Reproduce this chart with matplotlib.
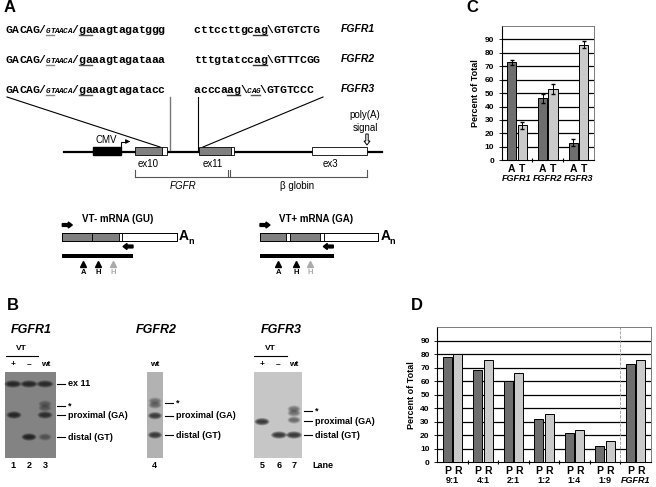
import numpy as np
import matplotlib
matplotlib.use('Agg')
import matplotlib.pyplot as plt
from matplotlib.patches import Rectangle, Ellipse

plt.rcParams['font.family'] = ['Liberation Sans', 'DejaVu Sans']

# --- datos panel C
genes_c = ['FGFR1', 'FGFR2', 'FGFR3']
pct_A = [73, 46, 13]
pct_T = [26, 53, 86]
err_A = [2.0, 3.0, 2.5]
err_T = [2.5, 3.5, 2.5]

# --- datos panel D
grupos_d = ['9:1', '4:1', '2:1', '1:2', '1:4', '1:9', 'FGFR1']
pct_P = [78, 68, 60, 32, 22, 12, 72.5]
pct_R = [80, 75.5, 66, 36, 24, 16, 75.5]

yticks = list(range(0, 100, 10))

# --- secuencias panel A (texto, tamano: n=normal s=pequeno)
seq_izq = [
    [('GACAG/', 'n'), ('GTAACA', 's'), ('/gaaagtagatggg', 'n')],
    [('GACAG/', 'n'), ('GTAACA', 's'), ('/gaaagtagataaa', 'n')],
    [('GACAG/', 'n'), ('GTAACA', 's'), ('/gaaagtagatacc', 'n')],
]
seq_der = [
    [('cttccttgcag\\GTGTCTG', 'n')],
    [('tttgtatccag\\GTTTCGG', 'n')],
    [('acccaag\\', 'n'), ('CAG', 's'), ('\\GTGTCCC', 'n')],
]
nombres = ['FGFR1', 'FGFR2', 'FGFR3']

# --- geles panel B: (x, y, ancho, oscuridad)
bandas_1 = [(13, 384, 17, 0.95), (29, 384, 17, 0.95), (45, 384, 17, 0.9),
            (45, 404, 13, 0.35), (45, 408, 13, 0.35),
            (14, 415, 15, 0.95), (45, 415, 15, 0.85),
            (29, 437, 15, 1.0), (45, 437, 13, 0.4)]
bandas_2 = [(155, 401, 13, 0.4), (155, 405, 13, 0.45),
            (155, 415.7, 14, 0.85), (155, 435, 14, 0.9)]
bandas_3 = [(262, 421.7, 15, 0.95), (279, 435, 16, 0.95), (294, 435, 16, 0.95),
            (294, 420, 13, 0.5), (294, 409, 13, 0.45), (294, 413, 13, 0.45)]

oscuro = '#6e6e6e'
claro = '#cacaca'

f = plt.figure(figsize=(6.56, 4.87), dpi=100)
ax = f.add_axes([0, 0, 1, 1])
ax.set_xlim(0, 656); ax.set_ylim(487, 0); ax.axis('off')

# letras de panel
for l, x, y in [('A', 10, 8), ('B', 13, 305), ('C', 472, 8), ('D', 417, 305)]:
    ax.text(x, y, l, fontsize=12, fontweight='bold', ha='center', va='center')

# secuencias, letra a letra
def seq(x0, y, partes, subr):
    x = x0
    pos = []
    for txt, t in partes:
        cw = 6.6 if t == 'n' else 4.4
        fs = 8.2 if t == 'n' else 5.5
        for c in txt:
            ax.text(x + cw/2, y, c, fontsize=fs, family='Liberation Mono',
                    fontweight='bold', ha='center', va='baseline',
                    style='normal' if t == 'n' else 'italic')
            pos.append((x, cw))
            x += cw
    for i0, i1, col in subr:
        ax.plot([pos[i0][0], pos[i1][0] + pos[i1][1]], [y + 2, y + 2], color=col, lw=1)

ys = [33, 63, 93]
for i in range(3):
    seq(6, ys[i], seq_izq[i], [(6, 7, '#888888'), (13, 14, '#555555')])
    sub = [(9, 10, '#333333')] if i < 2 else [(5, 6, '#333333'), (9, 10, '#555555')]
    seq(194, ys[i], seq_der[i], sub)
    ax.text(341, ys[i] - 3.5, nombres[i], fontsize=7.5, fontweight='bold', style='italic', va='center')

# lineas hacia el gen
ax.plot([7, 160], [97, 147], 'k-', lw=0.8)
ax.plot([170, 170], [97, 150], color='#777777', lw=1)
ax.plot([198, 198], [97, 150], 'k-', lw=0.8)
ax.plot([323, 203], [97, 147], 'k-', lw=0.8)

# esquema del gen
ax.plot([64, 382], [151.5, 151.5], 'k-', lw=1.6, zorder=1)
ax.add_patch(Rectangle((92.7, 147), 28, 8, fc='black', ec='black', zorder=2))
ax.plot([121, 121, 126], [147, 141.5, 141.5], 'k-', lw=0.8)
ax.annotate('', xy=(133, 141.5), xytext=(125, 141.5),
            arrowprops=dict(arrowstyle='-|>', color='k', lw=0.8, mutation_scale=6))
ax.text(106, 140, 'CMV', fontsize=7, ha='center', va='center')
for x0, x1, x2 in [(135, 162.3, 166.7), (199.3, 231, 234.3)]:
    ax.add_patch(Rectangle((x0, 147), x1 - x0, 8, fc='#808080', ec='black', lw=0.6, zorder=2))
    ax.add_patch(Rectangle((x1, 147), x2 - x1, 8, fc='white', ec='black', lw=0.6, zorder=2))
ax.add_patch(Rectangle((312.3, 147), 55, 8, fc='white', ec='black', lw=0.6, zorder=2))
ax.text(365, 115, 'poly(A)', fontsize=7, ha='center', va='center')
ax.text(365, 128, 'signal', fontsize=7, ha='center', va='center')
ax.arrow(367, 134, 0, 11, width=2.4, head_width=6, head_length=4, fc='white', ec='k',
         lw=0.7, length_includes_head=True)
ax.text(148, 164, 'ex10', fontsize=7, ha='center', va='center')
ax.text(213, 164, 'ex11', fontsize=7, ha='center', va='center')
ax.text(330, 164, 'ex3', fontsize=7, ha='center', va='center')
ax.plot([135, 367], [176.7, 176.7], color='#555555', lw=0.8)
for x in [135, 228, 230, 367]:
    ax.plot([x, x], [170, 176.7], color='#555555', lw=0.8)
ax.text(183, 186, 'FGFR', fontsize=7, style='italic', ha='center', va='center')
ax.text(297, 186, '\u03b2 globin', fontsize=7, ha='center', va='center')

# ARNm
def arnm(x0, x1, cortes, ttl, xt, rx, bx, tri):
    ax.text(xt, 219, ttl, fontsize=7, fontweight='bold', ha='center', va='center')
    ax.arrow(x0, 225, 10, 0, width=2.8, head_width=6, head_length=4, color='k', length_includes_head=True)
    for a, b, c in cortes:
        ax.add_patch(Rectangle((a, 232.5), b - a, 8, fc=c, ec='black', lw=0.6))
    ax.add_patch(Rectangle((x0, 232.5), x1 - x0, 8, fc='none', ec='black', lw=0.6))
    ax.text(x1 + 2, 236.5, 'A', fontsize=10, fontweight='bold', va='center')
    ax.text(x1 + 11.5, 241.5, 'n', fontsize=6.5, fontweight='bold', va='center')
    ax.arrow(rx + 10, 246.5, -10, 0, width=2.8, head_width=6, head_length=4, color='k', length_includes_head=True)
    ax.add_patch(Rectangle((x0, 253.5), bx - x0, 4.5, fc='black', ec='none'))
    for (x, lab), col in zip(zip(tri, ['A', 'H', 'H']), ['k', 'k', '#aaaaaa']):
        ax.plot(x, 263.5, marker='^', color=col, ms=5)
        ax.text(x, 272, lab, fontsize=5.5, fontweight='bold', color=col, ha='center', va='center')

arnm(62.3, 176.7, [(62.3, 92.3, '#808080'), (92.3, 119, '#808080'), (119, 122, 'white'), (122, 176.7, 'white')],
     'VT- mRNA (GU)', 118, 123, 132.7, [83.3, 98.3, 113.3])
arnm(260, 378.3, [(260, 286, '#808080'), (286, 290, 'white'), (290, 320, '#808080'), (320, 323.7, 'white'),
                  (323.7, 378.3, 'white')],
     'VT+ mRNA (GA)', 316.5, 323.3, 334.3, [278.3, 296, 310])

# panel B
for x, t in [(31, 'FGFR1'), (156, 'FGFR2'), (281, 'FGFR3')]:
    ax.text(x, 330, t, fontsize=9, fontweight='bold', style='italic', ha='center', va='center')
for xv, a, b in [(21.7, 6, 38.3), (270, 254.3, 286.7)]:
    ax.text(xv, 348, 'VT', fontsize=6, fontweight='bold', ha='center', va='center')
    ax.plot([a, b], [356, 356], 'k-', lw=0.8)
for x, t in [(13.3, '+'), (29.3, '\u2013'), (45.7, 'wt'), (154.3, 'wt'),
             (262.3, '+'), (278.3, '\u2013'), (294, 'wt')]:
    ax.text(x, 364.5, t, fontsize=6, fontweight='bold', ha='center', va='center')

def gel(x0, x1, fondo, bandas):
    ax.add_patch(Rectangle((x0, 371.7), x1 - x0, 86, fc=fondo, ec='none'))
    for x, y, w, d in bandas:
        for k in range(5):
            ax.add_patch(Ellipse((x, y), w * (1 - 0.1 * k), 7.5 - 1.2 * k, fc='black', ec='none',
                                 alpha=d * 0.22))

gel(5, 55.7, '#838383', bandas_1)
gel(147.3, 162.7, '#b2b2b2', bandas_2)
gel(254, 302.3, '#c6c6c6', bandas_3)

def marca(x, y, t):
    ax.plot([x, x + 8], [y, y], 'k-', lw=0.8)
    ax.text(x + 11, y, t, fontsize=6.5, fontweight='bold', va='center')

for y, t in [(384, 'ex 11'), (406, '*'), (415, 'proximal (GA)'), (437, 'distal (GT)')]:
    marca(57.3, y, t)
for y, t in [(403, '*'), (415.7, 'proximal (GA)'), (435, 'distal (GT)')]:
    marca(165, y, t)
for y, t in [(410.7, '*'), (421, 'proximal (GA)'), (435, 'distal (GT)')]:
    marca(304, y, t)
for x, t in [(13.3, '1'), (29.3, '2'), (45.7, '3'), (154.7, '4'), (262.3, '5'),
             (278.7, '6'), (293.7, '7'), (323.3, 'Lane')]:
    ax.text(x, 465.7, t, fontsize=6.5, fontweight='bold', ha='center', va='center')

# barras C y D
def barras(rect, cats, v1, v2, l1, l2, e1=None, e2=None, sep=None):
    a = f.add_axes(rect)
    x = np.arange(len(cats))
    a.bar(x - 0.17, v1, 0.3, color=oscuro, edgecolor='black', lw=0.7, zorder=3,
          yerr=e1, error_kw=dict(lw=0.7, capsize=1.5))
    a.bar(x + 0.17, v2, 0.3, color=claro, edgecolor='black', lw=0.7, zorder=3,
          yerr=e2, error_kw=dict(lw=0.7, capsize=1.5))
    a.set_ylim(0, 100)
    a.set_xlim(-0.5, len(cats) - 0.5)
    a.set_yticks(yticks)
    a.set_yticklabels([str(t) for t in yticks], fontsize=6, fontweight='bold')
    for t in yticks[1:]:
        a.axhline(t, color='black', lw=0.9, zorder=1)
    a.set_xticks(np.arange(len(cats) - 1) + 0.5)
    a.set_xticklabels([])
    a.tick_params(axis='x', length=3, width=0.8, direction='inout')
    a.tick_params(axis='y', length=2, width=0.6)
    for s in ['top', 'right']:
        a.spines[s].set_color('#666666')
        a.spines[s].set_linewidth(0.6)
    a.spines['left'].set_linewidth(0.8)
    a.set_ylabel('Percent of Total', fontsize=6.5, fontweight='bold', labelpad=3)
    if sep is not None:
        a.axvline(sep, color='#999999', lw=0.6, ls='--', zorder=2)
    for i, c in enumerate(cats):
        for dx, l in [(-0.17, l1), (0.17, l2)]:
            a.annotate(l, (i + dx, 0), xycoords=('data', 'axes fraction'), xytext=(0, -6),
                       textcoords='offset points', ha='center', va='center',
                       fontsize=7.5, fontweight='bold')
        a.annotate(c, (i, 0), xycoords=('data', 'axes fraction'), xytext=(0, -13),
                   textcoords='offset points', ha='center', va='center', fontsize=6.5,
                   fontweight='bold', style='italic' if c.startswith('FGFR') else 'normal')
    return a

barras([0.7648, 0.6708, 0.1407, 0.276], genes_c, pct_A, pct_T, 'A', 'T', err_A, err_T)
barras([0.6666, 0.0507, 0.3253, 0.2778], grupos_d, pct_P, pct_R, 'P', 'R', sep=5.5)

plt.savefig('out.png', dpi=100)
